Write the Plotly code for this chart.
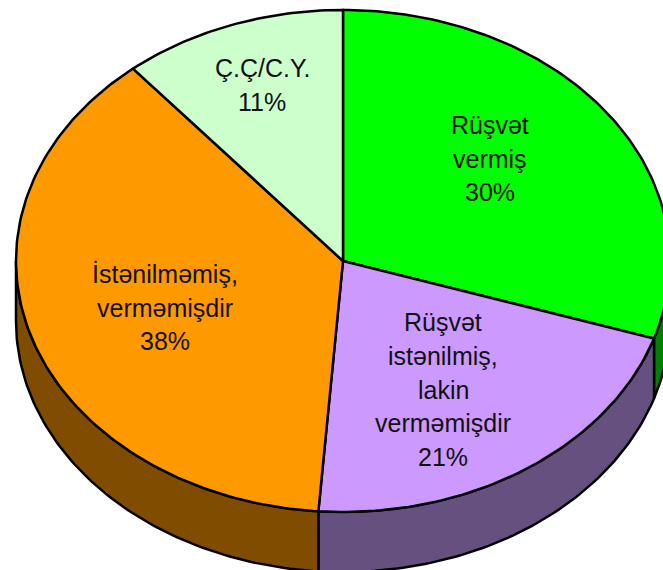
import numpy as np
import plotly.graph_objects as go

# Data
categories = ["Rüşvət vermiş", "Rüşvət istənilmiş, lakin verməmişdir", "İstənilməmiş, verməmişdir", "Ç.Ç/C.Y."]
values = [30, 21.2, 37.7, 11.1]
label_lines = [
    ["Rüşvət", "vermiş", "30%"],
    ["Rüşvət", "istənilmiş,", "lakin", "verməmişdir", "21%"],
    ["İstənilməmiş,", "verməmişdir", "38%"],
    ["Ç.Ç/C.Y.", "11%"],
]
top_colors = ["#00FF00", "#CC99FF", "#FF9900", "#CCFFCC"]
side_colors = ["#008000", "#665080", "#804D00", "#668066"]

# Geometry of the pie in the page
W, H = 663, 570
CX, CY, RX, RY, DEPTH = 343, 261, 327, 251, 60
label_anchor = [(490, 125), (443, 322), (165, 274), (262, 68)]
line_gaps = [33.5, 33.75, 33.5, 34]


def arc(a0, a1, dy=0):
    n = max(2, int(abs(a1 - a0)) + 2)
    t = np.radians(np.linspace(a0, a1, n))
    return CX + RX * np.sin(t), CY + dy - RY * np.cos(t)


total = sum(values)
edges = np.concatenate([[0], np.cumsum(values) / total * 360])
fig = go.Figure()

# Side walls (only the front half of the ellipse is visible)
for i, name in enumerate(categories):
    a0, a1 = max(edges[i], 90), min(edges[i + 1], 270)
    if a0 >= a1:
        continue
    xt, yt = arc(a0, a1)
    xb, yb = arc(a1, a0, DEPTH)
    fig.add_trace(go.Scatter(
        x=np.r_[xt, xb, xt[0]], y=np.r_[yt, yb, yt[0]], mode="lines", fill="toself",
        fillcolor=side_colors[i], line=dict(color="black", width=2.5),
        hoverinfo="skip", showlegend=False))

# Top faces
for i, name in enumerate(categories):
    xa, ya = arc(edges[i], edges[i + 1])
    fig.add_trace(go.Scatter(
        x=np.r_[CX, xa, CX], y=np.r_[CY, ya, CY], mode="lines", fill="toself",
        fillcolor=top_colors[i], line=dict(color="black", width=2.5),
        name=name, text=f"{name}: {label_lines[i][-1]}", hoverinfo="text", showlegend=False))

# Labels
annotations = []
for lines, (lx, ly), gap in zip(label_lines, label_anchor, line_gaps):
    for k, line in enumerate(lines):
        annotations.append(dict(
            x=lx, y=ly + k * gap, text=line, showarrow=False, xanchor="center", yanchor="middle",
            font=dict(family="Liberation Sans, Arial, sans-serif", size=25, color="#111111")))

fig.update_layout(
    width=W, height=H, margin=dict(l=0, r=0, t=0, b=0), autosize=False,
    paper_bgcolor="white", plot_bgcolor="white", showlegend=False, annotations=annotations,
    xaxis=dict(range=[0, W], visible=False, fixedrange=True),
    yaxis=dict(range=[H, 0], visible=False, fixedrange=True),
)
fig.write_html("out.html", config={"displayModeBar": False},
               post_script="document.body.style.margin='0';document.body.style.overflow='hidden';")
